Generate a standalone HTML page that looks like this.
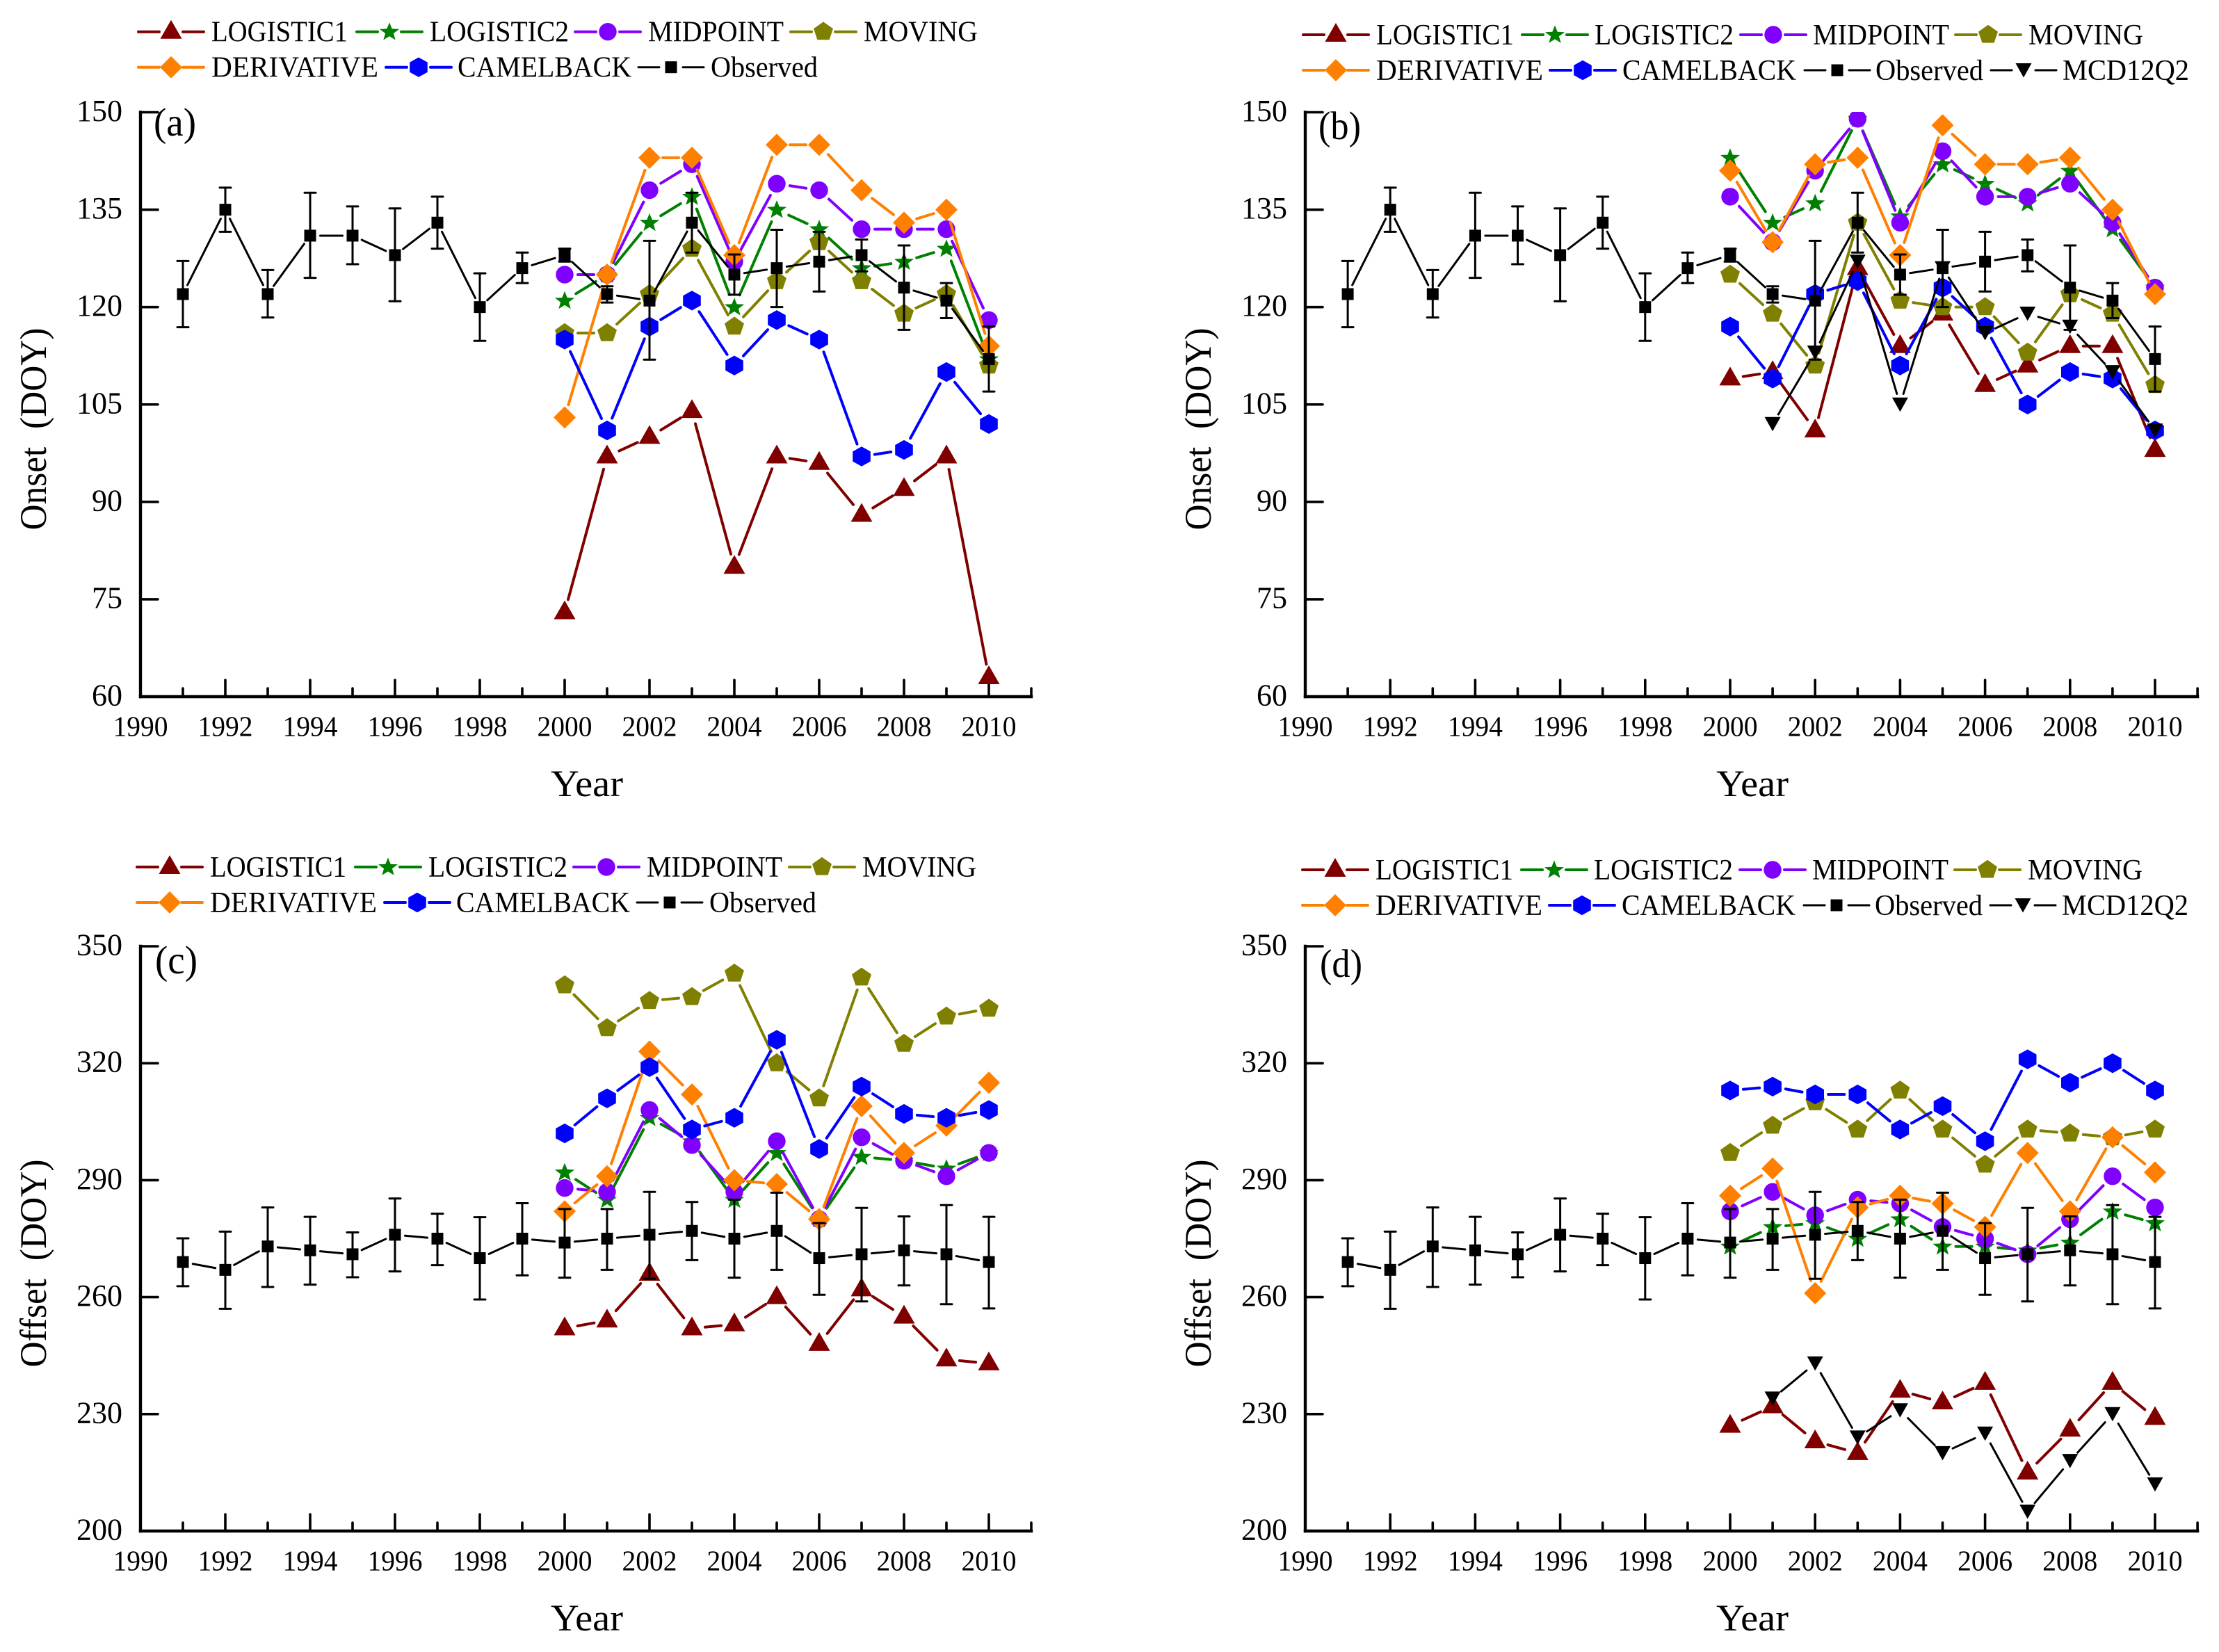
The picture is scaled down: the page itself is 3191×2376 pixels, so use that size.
<!DOCTYPE html>
<html lang="en">
<head>
<meta charset="utf-8">
<title>Phenology onset and offset by method</title>
<style>
html,body{margin:0;padding:0;background:#fff;}
svg{display:block;}
text{font-family:"Liberation Serif","Times New Roman",serif;fill:#000;white-space:pre;}
</style>
</head>
<body>
<svg id="figure" xmlns="http://www.w3.org/2000/svg" width="3191" height="2376" viewBox="0 0 3191 2376"></svg>
<script>
/* ---------- shared categories and tick labels ---------- */
const observedYears = [1991,1992,1993,1994,1995,1996,1997,1998,1999,2000,2001,2002,2003,2004,2005,2006,2007,2008,2009,2010];
const methodYears = [2000,2001,2002,2003,2004,2005,2006,2007,2008,2009,2010];
const xTickLabels = [1990,1992,1994,1996,1998,2000,2002,2004,2006,2008,2010];
const xMinorTicks = [1991,1993,1995,1997,1999,2001,2003,2005,2007,2009,2011];
const onsetTicks = [60,75,90,105,120,135,150];
const offsetTicks = [200,230,260,290,320,350];

/* ---------- observed values with error limits ---------- */
const onsetObserved = [122,135,122,131,131,128,133,120,126,128,122,121,133,125,126,127,128,123,121,112];
const onsetUpper = [127.1,138.4,125.7,137.6,135.5,135.2,137,125.2,128.4,129,123.2,130.2,137.6,128.1,131.9,131.6,130.4,129.5,123.7,117];
const onsetLower = [116.9,131.6,118.4,124.5,126.6,120.9,129,114.8,123.7,127,120.7,111.9,128.4,121.9,120,122.4,125.5,116.5,118.3,107];
const offsetObserved = [269,267,273,272,271,276,275,270,275,274,275,276,277,275,277,270,271,272,271,269];
const offsetUpper = [275.1,276.8,283,280.6,276.6,285.3,281.4,280.5,284.1,282.6,282.6,287,284.4,285,286.8,279,282.9,280.7,283.6,280.6];
const offsetLower = [262.8,257,262.6,263.2,265.1,266.6,268.2,259.4,265.6,265,267,264.7,269.5,265,267,260.6,258.9,263,258.2,257.1];

/* ---------- panel (a) onset ---------- */
const aLogistic1 = [73,97,100,104,80,97,96,88,92,97,63];
const aLogistic2 = [121,125,133,137,120,135,132,126,127,129,112];
const aMidpoint = [125,125,138,142,127,139,138,132,132,132,118];
const aMoving = [116,116,122,129,117,124,130,124,119,122,111];
const aDerivative = [103,125,143,143,128,145,145,138,133,135,114];
const aCamelback = [115,101,117,121,111,118,115,97,98,110,102];

/* ---------- panel (b) onset ---------- */
const bLogistic1 = [109,110,101,126,114,119,108,111,114,114,98];
const bLogistic2 = [143,133,136,149,134,142,139,136,141,132,123];
const bMidpoint = [137,130,141,149,133,144,137,137,139,133,123];
const bMoving = [125,119,111,133,121,120,120,113,122,119,108];
const bDerivative = [141,130,142,143,128,148,142,142,143,135,122];
const bCamelback = [117,109,122,124,111,123,117,105,110,109,101];
const bMcd = [null,102,113,127,105,126,116,119,117,110,101];

/* ---------- panel (c) offset ---------- */
const cLogistic1 = [252,254,266,252,253,260,248,262,255,244,243];
const cLogistic2 = [292,285,306,300,285,297,280,296,295,293,297];
const cMidpoint = [288,287,308,299,287,300,280,301,295,291,297];
const cMoving = [340,329,336,337,343,320,311,342,325,332,334];
const cDerivative = [282,291,323,312,290,289,280,309,297,304,315];
const cCamelback = [302,311,319,303,306,326,298,314,307,306,308];

/* ---------- panel (d) offset ---------- */
const dLogistic1 = [227,232,223,220,236,233,238,215,226,238,229];
const dLogistic2 = [273,278,279,275,280,273,273,272,274,282,279];
const dMidpoint = [282,287,281,285,284,278,275,271,280,291,283];
const dMoving = [297,304,310,303,313,303,294,303,302,301,303];
const dDerivative = [286,293,261,283,286,284,278,297,282,301,292];
const dCamelback = [313,314,312,312,303,309,300,321,315,320,313];
const dMcd = [null,234,243,224,231,220,225,205,218,230,212];

/* ---------- drawing ---------- */
const root = document.getElementById('figure');
const NS = 'http://www.w3.org/2000/svg';

function make(parent, tag, attrs, name) {
  const el = document.createElementNS(NS, tag);
  for (const k in attrs) el.setAttribute(k, attrs[k]);
  
  
  parent.appendChild(el);
  return el;
}
function label(parent, str, x, y, size, anchor, name, len, rot) {
  const a = {x: x, y: y, 'font-size': size, 'text-anchor': anchor};
  if (len) { a.textLength = len; a.lengthAdjust = 'spacingAndGlyphs'; }
  if (rot) a.transform = 'rotate(-90 ' + x + ' ' + y + ')';
  const t = make(parent, 'text', a, name);
  t.textContent = str;
  return t;
}
function pts(cx, cy, list) {
  return list.map(p => (cx + p[0]).toFixed(1) + ',' + (cy + p[1]).toFixed(1)).join(' ');
}
function star(rx, ry) {
  const out = [];
  for (let i = 0; i < 10; i++) {
    const r = i % 2 ? 0.42 : 1, th = -Math.PI / 2 + i * Math.PI / 5;
    out.push([rx * r * Math.cos(th), ry * r * Math.sin(th) + 0.5]);
  }
  return out;
}
function poly(n, rx, ry, dy) {
  const out = [];
  for (let i = 0; i < n; i++) {
    const th = -Math.PI / 2 + i * 2 * Math.PI / n;
    out.push([rx * Math.cos(th), ry * Math.sin(th) + dy]);
  }
  return out;
}
function marker(parent, kind, cx, cy, color, name) {
  if (kind === 'circle') return make(parent, 'circle', {cx: cx, cy: cy, r: 12.7, fill: color}, name);
  if (kind === 'square') return make(parent, 'rect', {x: cx - 8.5, y: cy - 8.5, width: 17, height: 17, fill: color}, name);
  let shape;
  if (kind === 'up') shape = [[0, -17], [15.5, 10], [-15.5, 10]];
  if (kind === 'down') shape = [[-11.5, -10], [11.5, -10], [0, 10.5]];
  if (kind === 'diamond') shape = [[0, -16], [16, 0], [0, 16], [-16, 0]];
  if (kind === 'star') shape = star(14.8, 14);
  if (kind === 'pentagon') shape = poly(5, 14.7, 14.3, 0);
  if (kind === 'hexagon') shape = poly(6, 14.8, 14.2, 0);
  return make(parent, 'polygon', {points: pts(cx, cy, shape), fill: color}, name);
}

const METHOD = {
  logistic1: {title: 'LOGISTIC1', color: '#800000', kind: 'up', width: 4, gap: 19},
  logistic2: {title: 'LOGISTIC2', color: '#008000', kind: 'star', width: 4, gap: 19},
  midpoint: {title: 'MIDPOINT', color: '#8000ff', kind: 'circle', width: 4, gap: 19},
  moving: {title: 'MOVING', color: '#808000', kind: 'pentagon', width: 4, gap: 19},
  derivative: {title: 'DERIVATIVE', color: '#ff8000', kind: 'diamond', width: 4, gap: 19},
  camelback: {title: 'CAMELBACK', color: '#0000ff', kind: 'hexagon', width: 4, gap: 19},
  observed: {title: 'Observed', color: '#000000', kind: 'square', width: 3, gap: 14.5},
  mcd: {title: 'MCD12Q2', color: '#000000', kind: 'down', width: 3, gap: 16}
};

function drawSeries(g, key, xs, ys, X, Y, prefix, clipId) {
  const m = METHOD[key];
  const sg = make(g, 'g', {'clip-path': 'url(#' + clipId + ')'}, prefix + '-' + key + '-series');
  const P = [];
  xs.forEach((x, i) => { if (ys[i] !== null) P.push([X(x), Y(ys[i]), x]); });
  for (let i = 0; i + 1 < P.length; i++) {
    const dx = P[i + 1][0] - P[i][0], dy = P[i + 1][1] - P[i][1], L = Math.hypot(dx, dy);
    if (L <= 2 * m.gap) continue;
    const ux = dx / L, uy = dy / L;
    make(sg, 'line', {
      x1: P[i][0] + ux * m.gap, y1: P[i][1] + uy * m.gap,
      x2: P[i + 1][0] - ux * m.gap, y2: P[i + 1][1] - uy * m.gap,
      stroke: m.color, 'stroke-width': m.width, 'stroke-linecap': 'round'
    }, prefix + '-' + key + '-line-segment');
  }
  P.forEach(p => marker(sg, m.kind, p[0], p[1], m.color, prefix + '-' + key + '-point-' + p[2]));
}

function drawPanel(cfg) {
  const g = make(root, 'g', {}, 'panel-' + cfg.id);
  const X = v => cfg.x0 + (v - 1990) * cfg.kx;
  const Y = v => cfg.yb - (v - cfg.ymin) / (cfg.ymax - cfg.ymin) * (cfg.yb - cfg.yt);
  const clipId = 'plot-clip-' + cfg.id;
  const clip = make(g, 'clipPath', {id: clipId}, 'plot-clip-region');
  make(clip, 'rect', {x: X(1990), y: cfg.yt - 0.5, width: X(2011) - X(1990) + 20, height: cfg.yb - cfg.yt + 40}, 'plot-clip-rect');
  const axisStyle = {stroke: '#000', 'stroke-width': 4.4, 'stroke-linecap': 'square', fill: 'none'};
  const tickStyle = {stroke: '#000', 'stroke-width': 3.6, 'stroke-linecap': 'round'};

  /* axes */
  make(g, 'line', Object.assign({x1: X(1990), y1: cfg.yt, x2: X(1990), y2: cfg.yb}, axisStyle), 'y-axis-line');
  make(g, 'line', Object.assign({x1: X(1990), y1: cfg.yb, x2: X(2011), y2: cfg.yb}, axisStyle), 'x-axis-line');
  cfg.yticks.forEach(v => {
    make(g, 'line', Object.assign({x1: X(1990), y1: Y(v), x2: X(1990) + 25, y2: Y(v)}, tickStyle), 'y-tick-' + v);
    label(g, String(v), X(1990) - 26, Y(v) + 12.5, 44, 'end', 'y-tick-label-' + v);
  });
  xTickLabels.forEach(v => {
    if (v > 1990) make(g, 'line', Object.assign({x1: X(v), y1: cfg.yb, x2: X(v), y2: cfg.yb - 24}, tickStyle), 'x-tick-' + v);
    label(g, String(v), X(v), cfg.yb + 56.5, 41, 'middle', 'x-tick-label-' + v, 79);
  });
  xMinorTicks.forEach(v => {
    make(g, 'line', Object.assign({x1: X(v), y1: cfg.yb, x2: X(v), y2: cfg.yb - 12}, tickStyle), 'x-minor-tick-' + v);
  });
  label(g, 'Year', cfg.yearX, cfg.yb + 143, 54, 'middle', 'x-axis-title', 104);
  label(g, cfg.ytitle, cfg.ytX, cfg.ytY, 54, 'middle', 'y-axis-title', cfg.ytLen, true);
  label(g, '(' + cfg.id + ')', cfg.letterX, cfg.letterY, 57, 'start', 'panel-letter', 61);

  /* method series, in legend order */
  cfg.series.forEach(s => drawSeries(g, s[0], methodYears, s[1], X, Y, 'panel-' + cfg.id, clipId));

  /* observed error bars then observed line */
  const eb = make(g, 'g', {}, 'observed-error-bars');
  observedYears.forEach((yr, i) => {
    const bar = {stroke: '#000', 'stroke-width': 3, 'stroke-linecap': 'round'};
    const x = X(yr), u = Y(cfg.upper[i]), l = Y(cfg.lower[i]);
    make(eb, 'line', Object.assign({x1: x, y1: u, x2: x, y2: l}, bar), 'error-bar-' + yr);
    make(eb, 'line', Object.assign({x1: x - 8, y1: u, x2: x + 8, y2: u}, bar), 'error-cap-upper-' + yr);
    make(eb, 'line', Object.assign({x1: x - 8, y1: l, x2: x + 8, y2: l}, bar), 'error-cap-lower-' + yr);
  });
  drawSeries(g, 'observed', observedYears, cfg.observed, X, Y, 'panel-' + cfg.id, clipId);
  if (cfg.mcd) drawSeries(g, 'mcd', methodYears, cfg.mcd, X, Y, 'panel-' + cfg.id, clipId);

  /* legend */
  const leg = make(g, 'g', {}, 'legend');
  cfg.legend.forEach(e => {
    const m = METHOD[e[0]];
    const item = make(leg, 'g', {}, 'legend-entry-' + e[0]);
    const y = e[1] ? cfg.legendY2 : cfg.legendY1;
    const x1 = e[2] + cfg.legendDx, x2 = x1 + 94, cx = x1 + 47;
    const st = {stroke: m.color, 'stroke-width': m.width, 'stroke-linecap': 'round'};
    make(item, 'line', Object.assign({x1: x1, y1: y, x2: cx - 17, y2: y}, st), 'legend-line-left');
    make(item, 'line', Object.assign({x1: cx + 17, y1: y, x2: x2, y2: y}, st), 'legend-line-right');
    marker(item, m.kind, cx, y, m.color, 'legend-marker');
    label(item, m.title, e[3] + cfg.legendDx, y + 14, 42, 'start', 'legend-label', e[4]);
  });
}

const legendA = [
  ['logistic1',0,199,304,196],['logistic2',0,513,618,200],['midpoint',0,827,932,195],['moving',0,1137,1242,164],
  ['derivative',1,199,304,240],['camelback',1,555,658,250],['observed',1,918,1022,154]
];
const legendB = [
  ['logistic1',0,1874,1979,198],['logistic2',0,2189,2293,200],['midpoint',0,2503,2607,196],['moving',0,2812,2917,165],
  ['derivative',1,1874,1979,240],['camelback',1,2229,2333,250],['observed',1,2595,2697,155],['mcd',1,2863,2966,182]
];

drawPanel({id:'a', x0:202, kx:61, yt:161.5, yb:1002, ymin:60, ymax:150, yticks:onsetTicks,
  upper:onsetUpper, lower:onsetLower, observed:onsetObserved, mcd:null,
  series:[['logistic1',aLogistic1],['logistic2',aLogistic2],['midpoint',aMidpoint],['moving',aMoving],['derivative',aDerivative],['camelback',aCamelback]],
  legend:legendA, legendDx:0, legendY1:45.7, legendY2:96.7,
  yearX:844, ytitle:'Onset  (DOY)', ytX:66, ytY:617, ytLen:291, letterX:221, letterY:195});

drawPanel({id:'b', x0:1877, kx:61.1, yt:161.5, yb:1002, ymin:60, ymax:150, yticks:onsetTicks,
  upper:onsetUpper, lower:onsetLower, observed:onsetObserved, mcd:bMcd,
  series:[['logistic1',bLogistic1],['logistic2',bLogistic2],['midpoint',bMidpoint],['moving',bMoving],['derivative',bDerivative],['camelback',bCamelback]],
  legend:legendB, legendDx:0, legendY1:50, legendY2:101,
  yearX:2520, ytitle:'Onset  (DOY)', ytX:1741, ytY:617, ytLen:291, letterX:1896, letterY:200});

drawPanel({id:'c', x0:202, kx:61, yt:1361, yb:2202, ymin:200, ymax:350, yticks:offsetTicks,
  upper:offsetUpper, lower:offsetLower, observed:offsetObserved, mcd:null,
  series:[['logistic1',cLogistic1],['logistic2',cLogistic2],['midpoint',cMidpoint],['moving',cMoving],['derivative',cDerivative],['camelback',cCamelback]],
  legend:legendA, legendDx:-2, legendY1:1247, legendY2:1298,
  yearX:844, ytitle:'Offset  (DOY)', ytX:66, ytY:1817, ytLen:299, letterX:223, letterY:1400});

drawPanel({id:'d', x0:1877, kx:61.1, yt:1361, yb:2202, ymin:200, ymax:350, yticks:offsetTicks,
  upper:offsetUpper, lower:offsetLower, observed:offsetObserved, mcd:dMcd,
  series:[['logistic1',dLogistic1],['logistic2',dLogistic2],['midpoint',dMidpoint],['moving',dMoving],['derivative',dDerivative],['camelback',dCamelback]],
  legend:legendB, legendDx:-1, legendY1:1251, legendY2:1302,
  yearX:2520, ytitle:'Offset  (DOY)', ytX:1741, ytY:1817, ytLen:299, letterX:1898, letterY:1405});
</script>
</body>
</html>
